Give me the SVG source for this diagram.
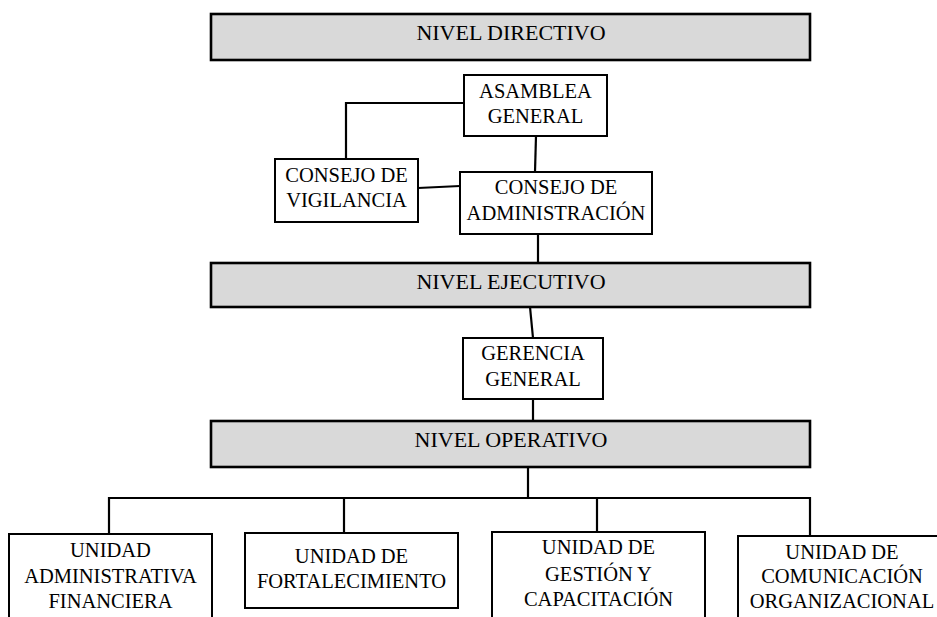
<svg xmlns="http://www.w3.org/2000/svg" width="937" height="617" viewBox="0 0 937 617">
  <style>
    .level rect { fill: #d9d9d9; stroke: #000; stroke-width: 2.6; }
    .box rect { fill: #fff; stroke: #000; stroke-width: 2; }
    text { font-family: "Liberation Serif", "Times New Roman", serif; fill: #000; text-anchor: middle; }
    .level text { font-size: 22px; }
    .box text { font-size: 20.5px; }
    #connectors path { fill: none; stroke: #000; stroke-width: 2.2; }
  </style>
  <rect width="937" height="617" fill="#fff"/>

  <!-- connectors -->
  <g id="connectors">
    <path d="M464,103 H346 V159"/>
    <path d="M536,136 L535,172"/>
    <path d="M418,188 L460,186"/>
    <path d="M538,234 V263"/>
    <path d="M530,307 L533,338"/>
    <path d="M533,399 V421"/>
    <path d="M528,467 V498"/>
    <path d="M109,534 V498 H810 V536"/>
    <path d="M344,498 V533"/>
    <path d="M597,498 V532"/>
  </g>

  <!-- levels -->
  <g id="nivel-directivo" class="level">
    <rect x="211" y="14" width="599" height="46"/>
    <text x="511" y="40">NIVEL DIRECTIVO</text>
  </g>
  <g id="nivel-ejecutivo" class="level">
    <rect x="211" y="263" width="599" height="44"/>
    <text x="511" y="289">NIVEL EJECUTIVO</text>
  </g>
  <g id="nivel-operativo" class="level">
    <rect x="211" y="421" width="599" height="46"/>
    <text x="511" y="447">NIVEL OPERATIVO</text>
  </g>

  <!-- governing bodies -->
  <g id="asamblea-general" class="box">
    <rect x="464" y="75" width="143" height="61"/>
    <text x="535.5" y="98">ASAMBLEA</text>
    <text x="535.5" y="123">GENERAL</text>
  </g>
  <g id="consejo-vigilancia" class="box">
    <rect x="275" y="159" width="143" height="63"/>
    <text x="346.5" y="182">CONSEJO DE</text>
    <text x="346.5" y="207">VIGILANCIA</text>
  </g>
  <g id="consejo-administracion" class="box">
    <rect x="460" y="172" width="192" height="62"/>
    <text x="556" y="194">CONSEJO DE</text>
    <text x="556" y="220">ADMINISTRACIÓN</text>
  </g>
  <g id="gerencia-general" class="box">
    <rect x="463" y="338" width="140" height="61"/>
    <text x="533" y="360">GERENCIA</text>
    <text x="533" y="386">GENERAL</text>
  </g>

  <!-- operating units -->
  <g id="unidad-administrativa" class="box">
    <rect x="9" y="534" width="203" height="100"/>
    <text x="110.5" y="557">UNIDAD</text>
    <text x="110.5" y="583">ADMINISTRATIVA</text>
    <text x="110.5" y="608">FINANCIERA</text>
  </g>
  <g id="unidad-fortalecimiento" class="box">
    <rect x="245" y="533" width="213" height="75"/>
    <text x="351.5" y="563">UNIDAD DE</text>
    <text x="351.5" y="588">FORTALECIMIENTO</text>
  </g>
  <g id="unidad-gestion" class="box">
    <rect x="492" y="532" width="213" height="100"/>
    <text x="598.5" y="554">UNIDAD DE</text>
    <text x="598.5" y="581">GESTIÓN Y</text>
    <text x="598.5" y="606">CAPACITACIÓN</text>
  </g>
  <g id="unidad-comunicacion" class="box">
    <rect x="738" y="536" width="208" height="100"/>
    <text x="842" y="559">UNIDAD DE</text>
    <text x="842" y="583">COMUNICACIÓN</text>
    <text x="842" y="608">ORGANIZACIONAL</text>
  </g>
</svg>
